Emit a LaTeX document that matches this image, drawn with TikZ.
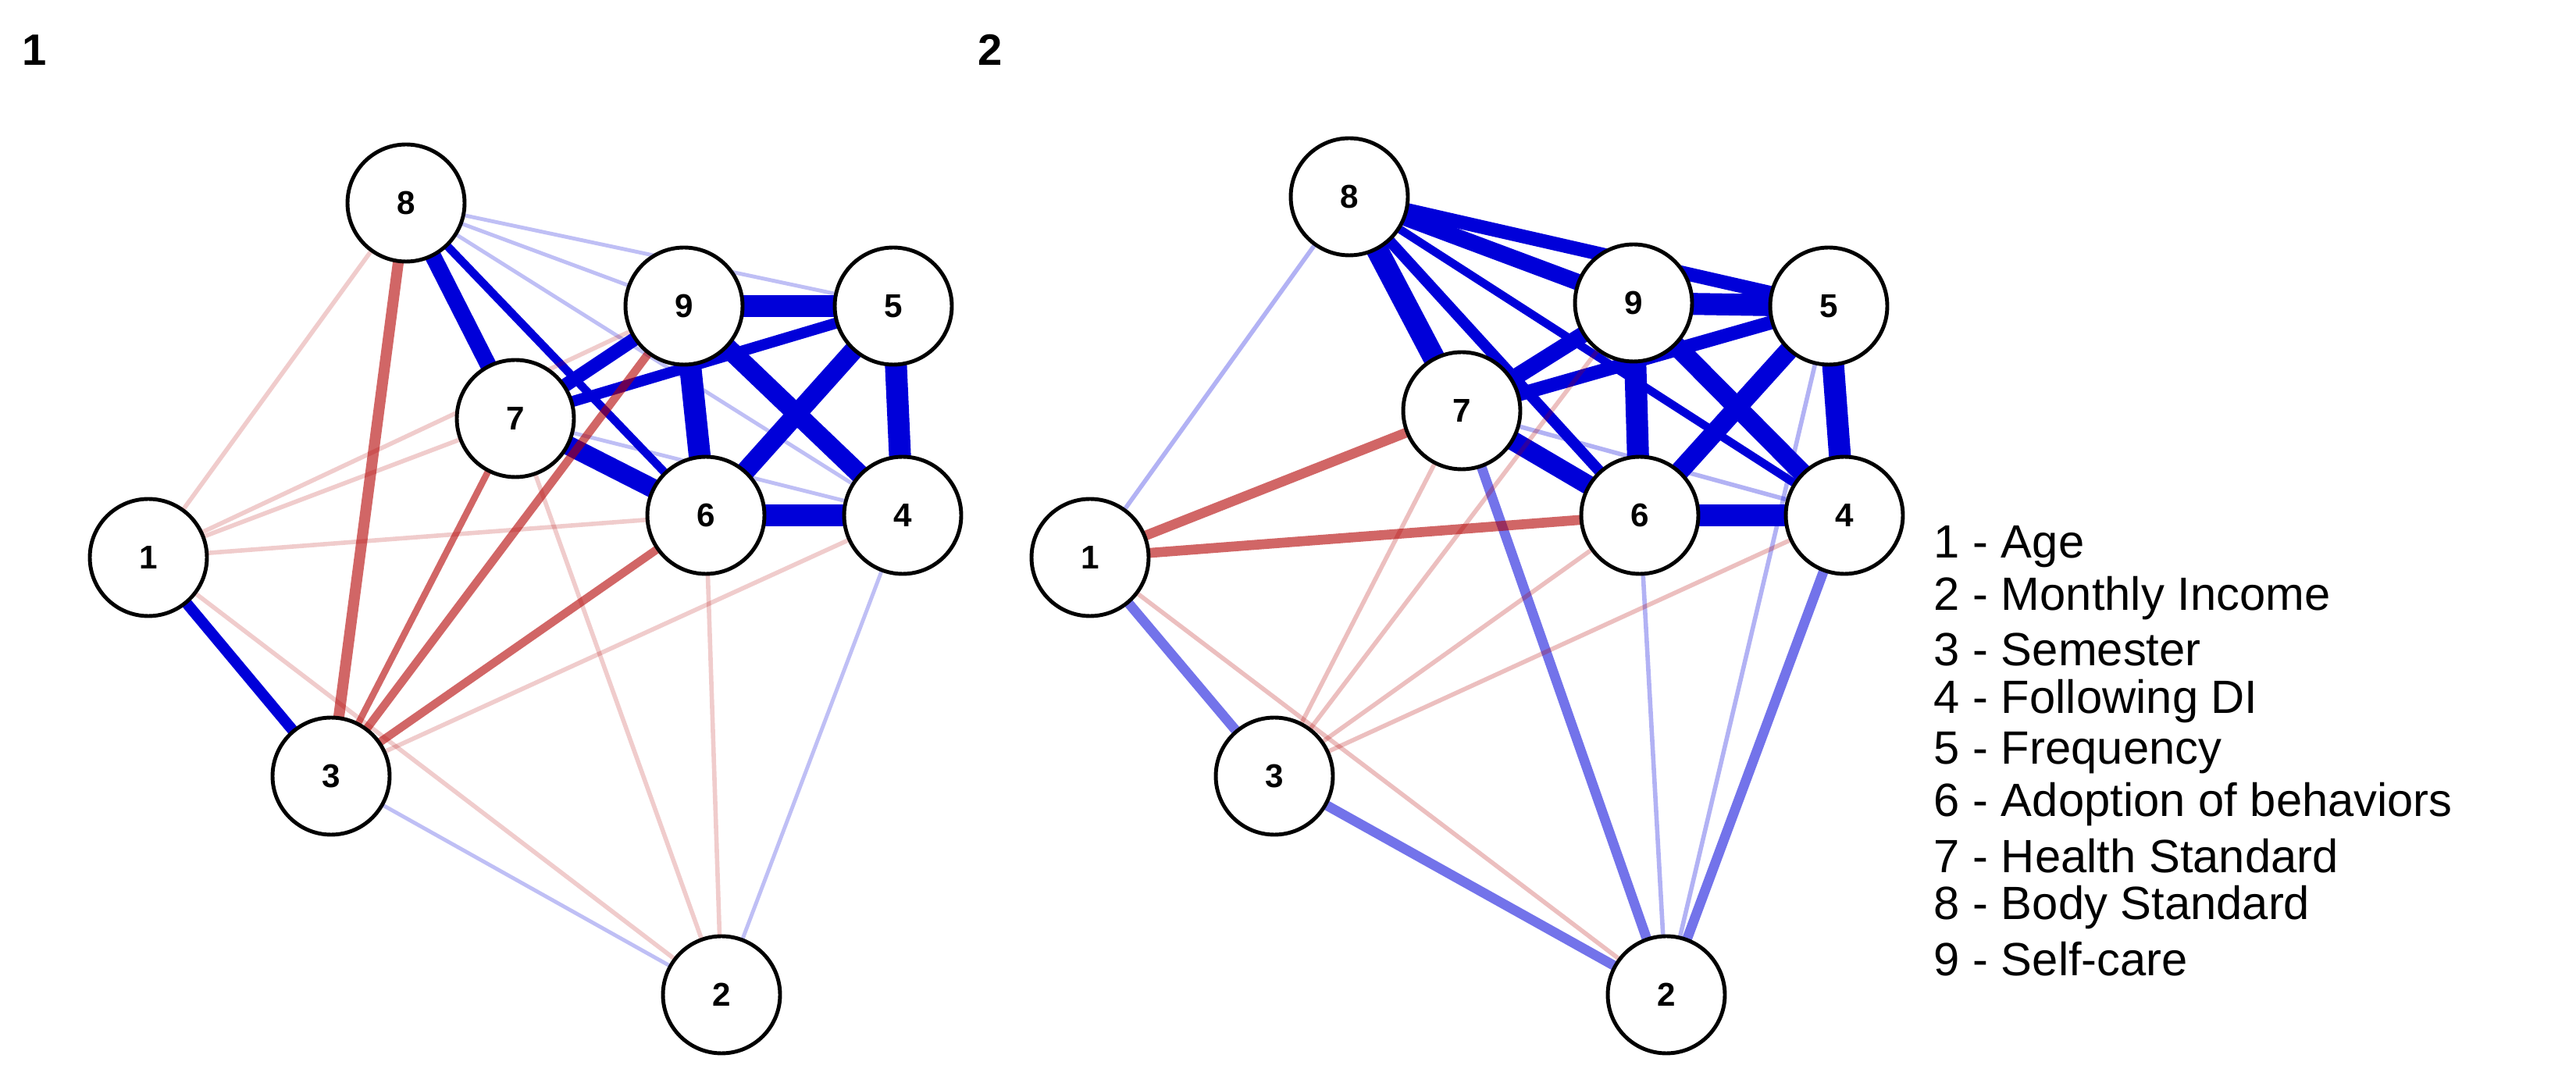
\documentclass[tikz,border=0pt]{standalone}
\usepackage{fontspec}
\setmainfont{Liberation Sans}
\usetikzlibrary{positioning}
\begin{document}
\begin{tikzpicture}[x=0.02cm,y=-0.02cm,
    var/.style={draw,circle,fill=white,line width=1.4pt,minimum size=1.5cm,inner sep=0pt,font=\fontsize{12}{14}\selectfont\bfseries},
    pos/.style={draw=blue!85!black,line width=2*#1},
    neg/.style={draw=red!70!black,line width=2*#1},
    legend/.style={anchor=west,inner sep=0pt,font=\fontsize{17}{20}\selectfont}]
    \useasboundingbox (0,0) rectangle (1649.5,693.5);
    \node[font=\fontsize{16}{18}\selectfont\bfseries](t1) at (22,32){1};
    \node[font=\fontsize{16}{18}\selectfont\bfseries](t2) at (634,32){2};
    % graph 1
    \foreach \n/\x/\y in {8/260/130,9/438/196,5/572/196,7/330/268,6/452/330,4/578/330,1/95/357,3/212/497,2/462/637}
        \coordinate (a\n) at (\x,\y);
    \foreach \u/\v/\w in {9/5/4pt,9/6/4pt,5/4/4pt,6/4/4pt,5/6/3.5pt,9/4/3.5pt,7/6/3.5pt,8/7/3pt,7/9/2.5pt,7/5/2pt,1/3/2pt,8/6/1.5pt}
        \draw[pos=\w] (a\u) -- (a\v);
    \foreach \u/\v in {8/4,8/9,8/5,7/4,3/2,4/2}
        \draw[pos=0.7pt,draw opacity=0.25] (a\u) -- (a\v);
    \foreach \u/\v/\w in {8/3/2pt,3/9/1.5pt,3/7/1.2pt,3/6/1.5pt}
        \draw[neg=\w,draw opacity=0.6] (a\u) -- (a\v);
    \foreach \u/\v in {3/4,1/8,1/7,1/6,1/9,7/2,1/2,6/2}
        \draw[neg=0.8pt,draw opacity=0.2] (a\u) -- (a\v);
    \foreach \n in {1,...,9}
        \node[var](n\n) at (a\n){\n};
    % graph 2
    \foreach \n/\x/\y in {8/864/126,9/1046/194,5/1171/196,7/936/263,6/1050/330,4/1181/330,1/698/357,3/816/497,2/1067/637}
        \coordinate (b\n) at (\x,\y);
    \foreach \u/\v/\w in {9/5/4pt,9/6/4pt,5/4/4pt,6/4/4pt,5/6/3.5pt,9/4/3.5pt,7/6/3.5pt,8/7/4pt,7/9/3pt,7/5/2.5pt,8/9/3pt,8/5/2.5pt,8/6/2pt,8/4/1.5pt}
        \draw[pos=\w] (b\u) -- (b\v);
    \foreach \u/\v in {1/3,3/2,7/2,4/2}
        \draw[pos=1.8pt,draw opacity=0.55] (b\u) -- (b\v);
    \foreach \u/\v in {1/8,6/2,5/2,7/4}
        \draw[pos=0.8pt,draw opacity=0.3] (b\u) -- (b\v);
    \foreach \u/\v in {1/7,1/6}
        \draw[neg=1.8pt,draw opacity=0.6] (b\u) -- (b\v);
    \foreach \u/\v in {3/9,3/6,3/4,3/7,1/2}
        \draw[neg=0.8pt,draw opacity=0.25] (b\u) -- (b\v);
    \foreach \n in {1,...,9}
        \node[var](m\n) at (b\n){\n};
    % legend
    \node[legend](l1) at (1238,350){1 - Age};
    \node[legend,below=0.66cm of l1.west,anchor=west](l2){2 - Monthly Income};
    \node[legend,below=0.66cm of l2.west,anchor=west](l3){3 - Semester};
    \node[legend,below=0.66cm of l3.west,anchor=west](l4){4 - Following DI};
    \node[legend,below=0.66cm of l4.west,anchor=west](l5){5 - Frequency};
    \node[legend,below=0.66cm of l5.west,anchor=west](l6){6 - Adoption of behaviors};
    \node[legend,below=0.66cm of l6.west,anchor=west](l7){7 - Health Standard};
    \node[legend,below=0.66cm of l7.west,anchor=west](l8){8 - Body Standard};
    \node[legend,below=0.66cm of l8.west,anchor=west](l9){9 - Self-care};
\end{tikzpicture}
\end{document}
